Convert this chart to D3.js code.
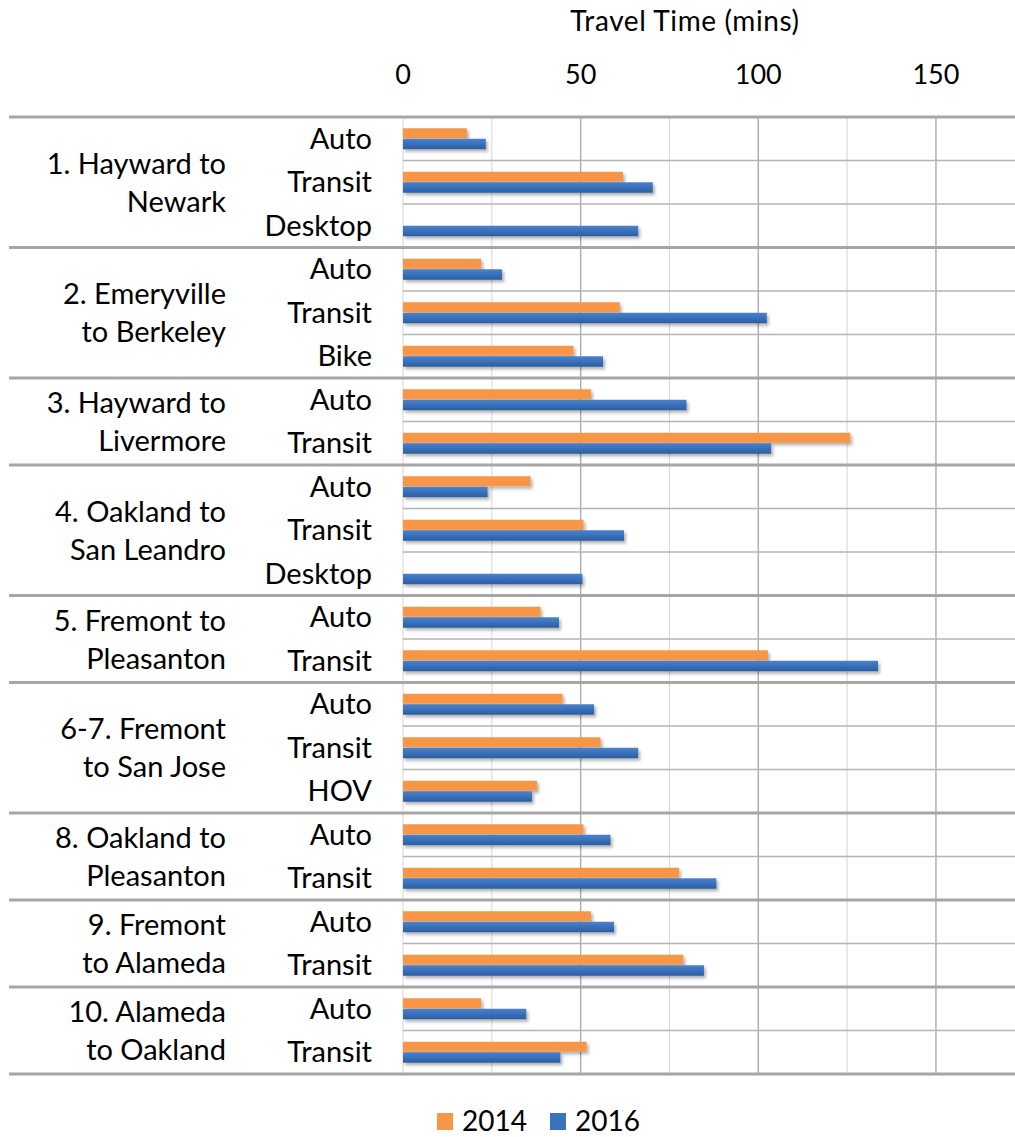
<!DOCTYPE html>
<html>
<head>
<meta charset="utf-8">
<script src="https://cdn.jsdelivr.net/npm/d3@7"></script>
<style>
  html, body { margin: 0; padding: 0; background: #fff; }
  svg { display: block; }
  text { font-family: Lato, "Open Sans", sans-serif; fill: #000; }
</style>
</head>
<body>
<script>
// ---- data ----
const groupLabels = [
  ["1. Hayward to", "Newark"],
  ["2. Emeryville", "to Berkeley"],
  ["3. Hayward to", "Livermore"],
  ["4. Oakland to", "San Leandro"],
  ["5. Fremont to", "Pleasanton"],
  ["6-7. Fremont", "to San Jose"],
  ["8. Oakland to", "Pleasanton"],
  ["9. Fremont", "to Alameda"],
  ["10. Alameda", "to Oakland"]
];
const modes = [
  ["Auto", "Transit", "Desktop"],
  ["Auto", "Transit", "Bike"],
  ["Auto", "Transit"],
  ["Auto", "Transit", "Desktop"],
  ["Auto", "Transit"],
  ["Auto", "Transit", "HOV"],
  ["Auto", "Transit"],
  ["Auto", "Transit"],
  ["Auto", "Transit"]
];
const values2014 = [
  [18.0, 61.9, null],
  [22.0, 61.0, 48.0],
  [52.9, 125.9],
  [35.9, 50.8, null],
  [38.7, 102.7],
  [44.9, 55.6, 37.7],
  [50.8, 77.7],
  [52.9, 78.9],
  [22.0, 51.7]
];
const values2016 = [
  [23.3, 70.3, 66.2],
  [27.9, 102.4, 56.3],
  [79.8, 103.6],
  [23.8, 62.2, 50.5],
  [43.9, 133.7],
  [53.8, 66.2, 36.3],
  [58.4, 88.2],
  [59.4, 84.7],
  [34.7, 44.3]
];
const seriesNames = ["2014", "2016"];
const seriesColors = ["#F79646", "#3A72BD"];
const tickValues = [0, 50, 100, 150];
const gridValues = [0, 25, 50, 75, 100, 125, 150, 175];
const axisTitle = "Travel Time (mins)";

// ---- layout ----
const W = 1015, H = 1137;
const svg = d3.select("body").append("svg").attr("width", W).attr("height", H);

const defs = svg.append("defs");
const f = defs.append("filter").attr("id", "shadow").attr("x", "-5%").attr("y", "-50%").attr("width", "115%").attr("height", "250%");
f.append("feDropShadow").attr("dx", 2).attr("dy", 2.5).attr("stdDeviation", 1.5).attr("flood-color", "#000").attr("flood-opacity", 0.3);
const gBlue = defs.append("linearGradient").attr("id", "blueGrad").attr("x1", 0).attr("y1", 0).attr("x2", 0).attr("y2", 1);
gBlue.append("stop").attr("offset", "0%").attr("stop-color", "#4A82CC");
gBlue.append("stop").attr("offset", "45%").attr("stop-color", "#3A72BD");
gBlue.append("stop").attr("offset", "100%").attr("stop-color", "#2C5D9C");

// build rows
const rows = [];
groupLabels.forEach((g, gi) => {
  modes[gi].forEach((m, mi) => {
    rows.push({ id: gi + "-" + mi, group: gi, mode: m, v: [values2014[gi][mi], values2016[gi][mi]] });
  });
});

const x = d3.scaleLinear().domain([0, 175]).range([403, 403 + 175 * 3.553]);
const y = d3.scaleBand().domain(rows.map(r => r.id)).range([117, 1074]).padding(0);
const inner = d3.scaleBand().domain(seriesNames).range([-10.5, 10.5]).padding(0);

// vertical gridlines
svg.append("g").selectAll("line").data(gridValues).join("line")
  .attr("x1", d => x(d)).attr("x2", d => x(d))
  .attr("y1", 117).attr("y2", 1074)
  .attr("stroke", d => (d % 50 === 0 && d > 0) ? "#ababab" : "#d9d9d9")
  .attr("stroke-width", d => (d % 50 === 0 && d > 0) ? 1.4 : 1.1);

// row separators (within groups)
const groupStarts = [];
const groupEnds = [];
groupLabels.forEach((g, gi) => {
  const ids = rows.filter(r => r.group === gi).map(r => r.id);
  groupStarts.push(y(ids[0]));
  groupEnds.push(y(ids[ids.length - 1]) + y.bandwidth());
});
const rowSeps = rows.filter((r, i) => i > 0 && rows[i - 1].group === r.group);
svg.append("g").selectAll("line").data(rowSeps).join("line")
  .attr("x1", x(0)).attr("x2", W)
  .attr("y1", d => y(d.id)).attr("y2", d => y(d.id))
  .attr("stroke", "#b4b4b4").attr("stroke-width", 1.3);

// group separators
const sepYs = [groupStarts[0]].concat(groupEnds);
svg.append("g").selectAll("line").data(sepYs).join("line")
  .attr("x1", 9).attr("x2", W)
  .attr("y1", d => d).attr("y2", d => d)
  .attr("stroke", "#a6a6a6").attr("stroke-width", 2.8);

// bars
const barG = svg.append("g");
rows.forEach(r => {
  const cy = y(r.id) + y.bandwidth() / 2;
  seriesNames.forEach((s, si) => {
    const v = r.v[si];
    if (v == null) return;
    barG.append("rect")
      .attr("x", x(0))
      .attr("y", cy + inner(s))
      .attr("width", x(v) - x(0))
      .attr("height", inner.bandwidth() - (si === 0 ? 0.5 : 0))
      .attr("fill", si === 0 ? seriesColors[0] : "url(#blueGrad)")
      .attr("filter", "url(#shadow)");
  });
});

// mode labels
svg.append("g").selectAll("text").data(rows).join("text")
  .attr("x", 372)
  .attr("y", d => y(d.id) + y.bandwidth() / 2 + 10)
  .attr("text-anchor", "end")
  .attr("font-size", 29)
  .text(d => d.mode);

// group labels
groupLabels.forEach((lines, gi) => {
  const cy = (groupStarts[gi] + groupEnds[gi]) / 2;
  const t = svg.append("text").attr("text-anchor", "end").attr("font-size", 29);
  lines.forEach((ln, li) => {
    t.append("tspan").attr("x", 226).attr("y", cy - 19 + li * 38 + 10.5).text(ln);
  });
});

// top axis tick labels
svg.append("g").selectAll("text").data(tickValues).join("text")
  .attr("x", d => x(d)).attr("y", 84)
  .attr("text-anchor", "middle")
  .attr("font-size", 27)
  .text(d => d);

// axis title
svg.append("text").attr("x", 685).attr("y", 31).attr("text-anchor", "middle")
  .attr("font-size", 28).attr("letter-spacing", 0.6).text(axisTitle);

// legend
const legX = [437, 550];
const leg = svg.append("g");
seriesNames.forEach((s, i) => {
  leg.append("rect").attr("x", legX[i]).attr("y", 1113).attr("width", 16).attr("height", 17)
    .attr("fill", seriesColors[i]);
  leg.append("text").attr("x", legX[i] + 25).attr("y", 1131).attr("font-size", 28).text(s);
});
</script>
</body>
</html>
